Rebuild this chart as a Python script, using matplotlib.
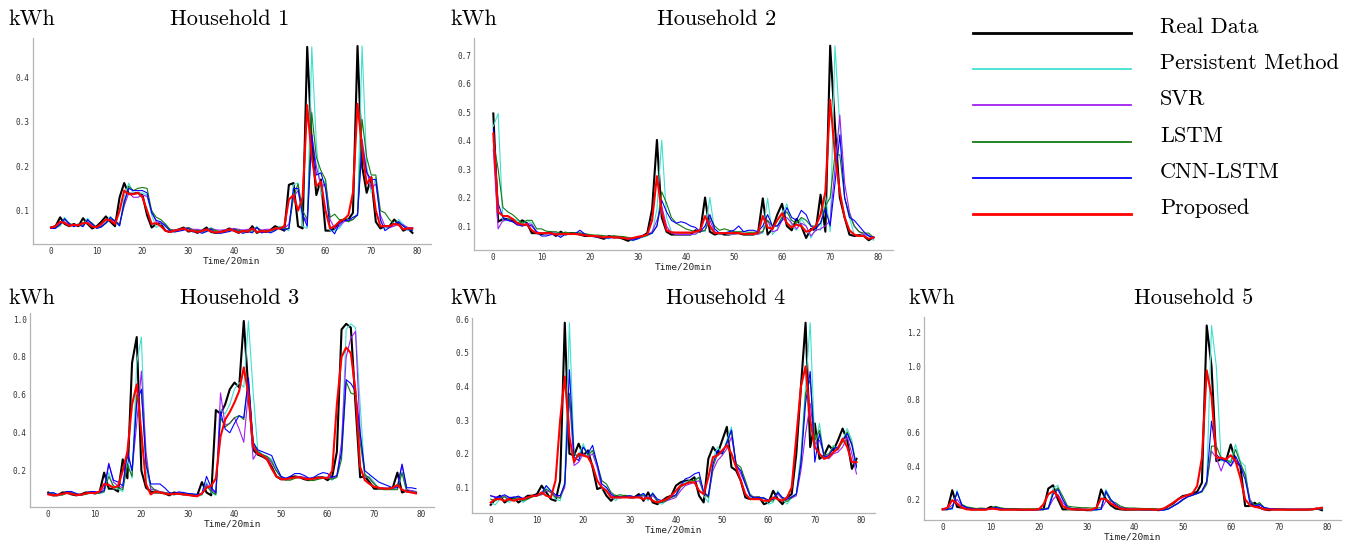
import numpy as np
import matplotlib
matplotlib.use("Agg")
import matplotlib.pyplot as plt
from matplotlib.lines import Line2D
from matplotlib.legend_handler import HandlerLine2D

# ---------------- data ----------------
steps = list(range(80))
xticks = [0, 10, 20, 30, 40, 50, 60, 70, 80]

series_names = ["Real Data", "Persistent Method", "SVR", "LSTM", "CNN-LSTM", "Proposed"]
series_colors = ["#000000", "#40e0d0", "#a020f0", "#137a13", "#0000ff", "#ff0000"]

titles = ["Household 1", "Household 2", "Household 3", "Household 4", "Household 5"]
yticks_list = [
    [0.1, 0.2, 0.3, 0.4],
    [0.1, 0.2, 0.3, 0.4, 0.5, 0.6, 0.7],
    [0.2, 0.4, 0.6, 0.8, 1.0],
    [0.1, 0.2, 0.3, 0.4, 0.5, 0.6],
    [0.2, 0.4, 0.6, 0.8, 1.0, 1.2],
]

# Household 1
real1 = [0.062,0.065,0.085,0.070,0.065,0.070,0.065,0.083,0.070,0.060,
         0.065,0.075,0.087,0.075,0.065,0.130,0.162,0.138,0.138,0.140,
         0.135,0.090,0.062,0.070,0.070,0.055,0.052,0.055,0.058,0.062,
         0.053,0.055,0.050,0.055,0.062,0.052,0.050,0.052,0.055,0.060,
         0.055,0.050,0.055,0.052,0.065,0.050,0.055,0.052,0.057,0.065,
         0.060,0.055,0.158,0.162,0.065,0.060,0.468,0.250,0.135,0.170,
         0.055,0.055,0.060,0.075,0.080,0.080,0.095,0.470,0.200,0.140,
         0.175,0.075,0.060,0.065,0.065,0.080,0.070,0.055,0.060,0.050]
pers1 = [0.060,0.062,0.065,0.085,0.070,0.065,0.070,0.065,0.083,0.070,
         0.060,0.065,0.075,0.087,0.075,0.065,0.130,0.162,0.138,0.138,
         0.140,0.135,0.090,0.062,0.070,0.070,0.055,0.052,0.055,0.058,
         0.062,0.053,0.055,0.050,0.055,0.062,0.052,0.050,0.052,0.055,
         0.060,0.055,0.050,0.055,0.052,0.065,0.050,0.055,0.052,0.057,
         0.065,0.060,0.055,0.158,0.162,0.065,0.060,0.468,0.250,0.135,
         0.170,0.055,0.055,0.060,0.075,0.080,0.080,0.095,0.470,0.200,
         0.140,0.175,0.075,0.060,0.065,0.065,0.080,0.070,0.055,0.060]
svr1 = [0.062,0.062,0.070,0.075,0.068,0.068,0.068,0.070,0.075,0.068,
        0.062,0.066,0.072,0.080,0.076,0.070,0.110,0.140,0.130,0.130,
        0.135,0.132,0.100,0.075,0.072,0.068,0.058,0.056,0.057,0.060,
        0.062,0.058,0.058,0.056,0.058,0.060,0.057,0.056,0.057,0.058,
        0.060,0.058,0.056,0.058,0.058,0.062,0.056,0.058,0.058,0.060,
        0.062,0.060,0.070,0.130,0.145,0.090,0.075,0.270,0.200,0.155,
        0.160,0.080,0.060,0.065,0.075,0.078,0.080,0.090,0.260,0.190,
        0.150,0.160,0.090,0.065,0.062,0.065,0.070,0.068,0.062,0.062]
lstm1 = [0.060,0.062,0.068,0.080,0.072,0.066,0.070,0.066,0.078,0.072,
         0.062,0.064,0.072,0.082,0.078,0.068,0.115,0.155,0.145,0.150,
         0.152,0.150,0.100,0.085,0.080,0.070,0.058,0.055,0.056,0.058,
         0.062,0.056,0.056,0.053,0.055,0.060,0.055,0.053,0.054,0.056,
         0.058,0.056,0.053,0.055,0.054,0.062,0.054,0.055,0.054,0.057,
         0.062,0.060,0.060,0.130,0.160,0.100,0.080,0.320,0.220,0.190,
         0.170,0.085,0.092,0.080,0.080,0.075,0.080,0.090,0.305,0.220,
         0.180,0.180,0.100,0.095,0.080,0.070,0.075,0.065,0.060,0.058]
cnn1 = [0.060,0.060,0.070,0.082,0.070,0.064,0.068,0.064,0.080,0.070,
        0.060,0.063,0.072,0.085,0.076,0.066,0.120,0.150,0.145,0.145,
        0.145,0.140,0.095,0.078,0.075,0.065,0.055,0.052,0.054,0.056,
        0.060,0.052,0.054,0.049,0.053,0.058,0.050,0.049,0.051,0.053,
        0.057,0.053,0.049,0.053,0.050,0.062,0.050,0.053,0.050,0.055,
        0.062,0.056,0.060,0.150,0.150,0.090,0.065,0.270,0.180,0.185,
        0.150,0.060,0.048,0.070,0.078,0.078,0.085,0.090,0.245,0.185,
        0.170,0.170,0.080,0.055,0.062,0.070,0.075,0.065,0.058,0.055]
prop1 = [0.062,0.065,0.075,0.072,0.066,0.068,0.067,0.072,0.072,0.064,
         0.063,0.070,0.080,0.078,0.070,0.100,0.145,0.137,0.137,0.140,
         0.130,0.100,0.070,0.072,0.065,0.055,0.052,0.055,0.057,0.060,
         0.055,0.055,0.052,0.054,0.058,0.053,0.051,0.052,0.054,0.058,
         0.055,0.051,0.054,0.053,0.060,0.052,0.054,0.053,0.056,0.060,
         0.060,0.065,0.125,0.135,0.100,0.130,0.337,0.220,0.155,0.165,
         0.100,0.060,0.065,0.075,0.080,0.090,0.140,0.340,0.240,0.160,
         0.175,0.100,0.065,0.065,0.065,0.070,0.068,0.058,0.060,0.060]

# Household 2
real2 = [0.495,0.115,0.125,0.125,0.120,0.105,0.120,0.110,0.075,0.075,
         0.072,0.075,0.078,0.065,0.080,0.070,0.075,0.075,0.070,0.065,
         0.065,0.065,0.060,0.055,0.065,0.060,0.060,0.055,0.048,0.055,
         0.060,0.065,0.075,0.160,0.402,0.130,0.080,0.070,0.070,0.070,
         0.070,0.070,0.085,0.080,0.200,0.080,0.070,0.075,0.070,0.070,
         0.075,0.075,0.070,0.070,0.070,0.075,0.197,0.070,0.090,0.140,
         0.178,0.100,0.085,0.125,0.100,0.058,0.090,0.085,0.210,0.080,
         0.733,0.450,0.200,0.130,0.070,0.065,0.068,0.065,0.050,0.060]
pers2 = [0.450,0.495,0.115,0.125,0.125,0.120,0.105,0.120,0.110,0.075,
         0.075,0.072,0.075,0.078,0.065,0.080,0.070,0.075,0.075,0.070,
         0.065,0.065,0.065,0.060,0.055,0.065,0.060,0.060,0.055,0.048,
         0.055,0.060,0.065,0.075,0.160,0.402,0.130,0.080,0.070,0.070,
         0.070,0.070,0.070,0.085,0.080,0.200,0.080,0.070,0.075,0.070,
         0.070,0.075,0.075,0.070,0.070,0.070,0.075,0.197,0.070,0.090,
         0.140,0.178,0.100,0.085,0.125,0.100,0.058,0.090,0.085,0.210,
         0.080,0.733,0.450,0.200,0.130,0.070,0.065,0.068,0.065,0.050]
svr2 = [0.370,0.090,0.120,0.120,0.115,0.105,0.100,0.110,0.105,0.080,
        0.075,0.072,0.074,0.075,0.068,0.075,0.072,0.073,0.074,0.070,
        0.066,0.065,0.064,0.060,0.060,0.062,0.060,0.059,0.055,0.052,
        0.056,0.062,0.068,0.080,0.120,0.170,0.100,0.075,0.070,0.070,
        0.070,0.070,0.072,0.082,0.085,0.120,0.080,0.072,0.074,0.072,
        0.072,0.074,0.074,0.072,0.072,0.072,0.080,0.120,0.080,0.085,
        0.120,0.130,0.110,0.090,0.110,0.100,0.065,0.085,0.090,0.100,
        0.120,0.300,0.490,0.250,0.150,0.100,0.080,0.070,0.068,0.055]
lstm2 = [0.400,0.300,0.165,0.150,0.140,0.125,0.110,0.120,0.120,0.090,
         0.090,0.082,0.080,0.080,0.075,0.078,0.075,0.076,0.076,0.073,
         0.070,0.068,0.068,0.066,0.064,0.066,0.064,0.063,0.060,0.056,
         0.058,0.062,0.068,0.075,0.100,0.220,0.180,0.130,0.110,0.100,
         0.090,0.085,0.080,0.080,0.085,0.130,0.100,0.085,0.090,0.085,
         0.080,0.080,0.080,0.078,0.078,0.078,0.080,0.120,0.100,0.100,
         0.130,0.150,0.120,0.110,0.130,0.120,0.100,0.100,0.110,0.170,
         0.200,0.350,0.350,0.200,0.140,0.100,0.080,0.075,0.075,0.060]
cnn2 = [0.440,0.180,0.130,0.120,0.115,0.105,0.100,0.105,0.100,0.080,
        0.065,0.065,0.070,0.070,0.060,0.072,0.072,0.073,0.085,0.072,
        0.065,0.062,0.062,0.058,0.058,0.060,0.060,0.058,0.055,0.050,
        0.055,0.065,0.070,0.075,0.100,0.190,0.150,0.120,0.110,0.115,
        0.110,0.100,0.095,0.080,0.100,0.140,0.090,0.075,0.075,0.080,
        0.085,0.100,0.080,0.085,0.085,0.080,0.100,0.140,0.100,0.100,
        0.120,0.165,0.130,0.120,0.155,0.140,0.100,0.090,0.110,0.160,
        0.100,0.250,0.420,0.200,0.130,0.120,0.100,0.080,0.065,0.060]
prop2 = [0.425,0.150,0.135,0.135,0.125,0.110,0.105,0.105,0.085,0.075,
         0.075,0.075,0.075,0.070,0.072,0.072,0.072,0.072,0.070,0.068,
         0.065,0.065,0.063,0.060,0.062,0.060,0.060,0.058,0.055,0.058,
         0.062,0.065,0.070,0.120,0.275,0.150,0.085,0.078,0.077,0.077,
         0.077,0.077,0.080,0.085,0.135,0.100,0.075,0.075,0.075,0.075,
         0.075,0.075,0.072,0.072,0.072,0.075,0.135,0.095,0.090,0.120,
         0.145,0.110,0.095,0.105,0.100,0.080,0.085,0.100,0.140,0.220,
         0.543,0.350,0.220,0.130,0.085,0.070,0.065,0.065,0.055,0.060]

# Household 3
real3 = [0.085,0.070,0.070,0.085,0.085,0.075,0.070,0.075,0.085,0.085,
         0.080,0.085,0.190,0.105,0.105,0.090,0.260,0.160,0.770,0.905,
         0.200,0.110,0.090,0.085,0.085,0.080,0.070,0.085,0.080,0.075,
         0.075,0.070,0.070,0.140,0.085,0.070,0.520,0.500,0.550,0.630,
         0.665,0.640,0.990,0.620,0.310,0.285,0.275,0.260,0.220,0.170,
         0.155,0.155,0.165,0.170,0.165,0.155,0.150,0.160,0.165,0.165,
         0.150,0.170,0.300,0.945,0.975,0.955,0.550,0.165,0.170,0.140,
         0.105,0.105,0.105,0.105,0.110,0.190,0.085,0.095,0.090,0.085]
pers3 = [0.080,0.085,0.070,0.070,0.085,0.085,0.075,0.070,0.075,0.085,
         0.085,0.080,0.085,0.190,0.105,0.105,0.090,0.260,0.160,0.770,
         0.905,0.200,0.110,0.090,0.085,0.085,0.080,0.070,0.085,0.080,
         0.075,0.075,0.070,0.070,0.140,0.085,0.070,0.520,0.500,0.550,
         0.630,0.665,0.640,0.990,0.620,0.310,0.285,0.275,0.260,0.220,
         0.170,0.155,0.155,0.165,0.170,0.165,0.155,0.150,0.160,0.165,
         0.165,0.150,0.170,0.300,0.945,0.975,0.955,0.550,0.165,0.170,
         0.140,0.105,0.105,0.105,0.105,0.110,0.190,0.085,0.095,0.090]
svr3 = [0.075,0.075,0.072,0.075,0.085,0.082,0.075,0.072,0.078,0.085,
        0.085,0.082,0.110,0.240,0.140,0.120,0.110,0.300,0.200,0.450,
        0.725,0.300,0.100,0.100,0.090,0.085,0.080,0.075,0.082,0.080,
        0.076,0.075,0.072,0.075,0.130,0.100,0.080,0.610,0.440,0.450,
        0.480,0.420,0.350,0.620,0.260,0.300,0.280,0.270,0.240,0.200,
        0.165,0.160,0.160,0.165,0.170,0.165,0.160,0.155,0.160,0.165,
        0.165,0.160,0.170,0.350,0.800,0.900,0.935,0.400,0.175,0.160,
        0.130,0.110,0.110,0.105,0.105,0.120,0.230,0.100,0.095,0.090]
lstm3 = [0.080,0.078,0.072,0.072,0.082,0.083,0.077,0.072,0.075,0.082,
         0.084,0.082,0.090,0.170,0.120,0.110,0.100,0.230,0.170,0.600,
         0.620,0.250,0.120,0.095,0.088,0.085,0.080,0.074,0.082,0.080,
         0.076,0.075,0.072,0.075,0.120,0.090,0.075,0.480,0.430,0.450,
         0.480,0.490,0.470,0.680,0.350,0.300,0.285,0.275,0.250,0.200,
         0.165,0.150,0.150,0.160,0.165,0.160,0.150,0.148,0.155,0.160,
         0.160,0.155,0.165,0.260,0.670,0.610,0.600,0.350,0.180,0.160,
         0.130,0.110,0.100,0.100,0.100,0.100,0.190,0.090,0.088,0.085]
cnn3 = [0.080,0.085,0.075,0.078,0.090,0.090,0.080,0.072,0.078,0.090,
        0.090,0.085,0.095,0.235,0.150,0.140,0.120,0.300,0.200,0.560,
        0.630,0.230,0.130,0.130,0.130,0.110,0.085,0.080,0.088,0.085,
        0.080,0.078,0.075,0.080,0.170,0.110,0.085,0.510,0.420,0.400,
        0.450,0.490,0.480,0.690,0.350,0.310,0.300,0.290,0.280,0.220,
        0.170,0.160,0.170,0.185,0.185,0.175,0.160,0.165,0.180,0.190,
        0.185,0.165,0.175,0.300,0.680,0.660,0.620,0.400,0.200,0.180,
        0.160,0.140,0.130,0.120,0.110,0.110,0.235,0.110,0.110,0.105]
prop3 = [0.075,0.070,0.072,0.078,0.082,0.078,0.072,0.073,0.080,0.083,
         0.082,0.090,0.130,0.125,0.110,0.120,0.200,0.300,0.550,0.655,
         0.400,0.130,0.075,0.090,0.085,0.080,0.075,0.078,0.078,0.075,
         0.072,0.068,0.065,0.080,0.110,0.120,0.160,0.380,0.470,0.510,
         0.560,0.620,0.745,0.600,0.330,0.290,0.280,0.260,0.210,0.170,
         0.155,0.155,0.160,0.165,0.165,0.158,0.155,0.158,0.162,0.163,
         0.160,0.200,0.550,0.800,0.850,0.820,0.620,0.220,0.150,0.130,
         0.115,0.110,0.105,0.105,0.110,0.125,0.100,0.090,0.085,0.080]

# Household 4
real4 = [0.048,0.065,0.075,0.055,0.065,0.070,0.055,0.065,0.075,0.075,
         0.080,0.105,0.085,0.065,0.060,0.120,0.590,0.200,0.195,0.230,
         0.195,0.210,0.160,0.095,0.100,0.075,0.060,0.075,0.070,0.075,
         0.070,0.070,0.080,0.060,0.085,0.055,0.050,0.060,0.070,0.075,
         0.105,0.115,0.120,0.120,0.130,0.075,0.055,0.185,0.220,0.200,
         0.240,0.280,0.160,0.150,0.120,0.070,0.065,0.070,0.070,0.050,
         0.055,0.090,0.065,0.050,0.070,0.080,0.200,0.400,0.590,0.220,
         0.290,0.185,0.195,0.225,0.210,0.240,0.275,0.240,0.155,0.185]
pers4 = [0.055,0.048,0.065,0.075,0.055,0.065,0.070,0.055,0.065,0.075,
         0.075,0.080,0.105,0.085,0.065,0.060,0.120,0.590,0.200,0.195,
         0.230,0.195,0.210,0.160,0.095,0.100,0.075,0.060,0.075,0.070,
         0.075,0.070,0.070,0.080,0.060,0.085,0.055,0.050,0.060,0.070,
         0.075,0.105,0.115,0.120,0.120,0.130,0.075,0.055,0.185,0.220,
         0.200,0.240,0.280,0.160,0.150,0.120,0.070,0.065,0.070,0.070,
         0.050,0.055,0.090,0.065,0.050,0.070,0.080,0.200,0.400,0.590,
         0.220,0.290,0.185,0.195,0.225,0.210,0.240,0.275,0.240,0.155]
svr4 = [0.075,0.072,0.070,0.072,0.070,0.070,0.072,0.068,0.068,0.072,
        0.075,0.078,0.090,0.085,0.075,0.070,0.100,0.370,0.165,0.175,
        0.200,0.190,0.200,0.160,0.100,0.090,0.075,0.068,0.070,0.070,
        0.072,0.070,0.070,0.075,0.065,0.075,0.060,0.055,0.060,0.065,
        0.070,0.090,0.105,0.110,0.115,0.120,0.085,0.070,0.150,0.180,
        0.195,0.215,0.250,0.170,0.140,0.110,0.075,0.070,0.068,0.068,
        0.060,0.065,0.080,0.065,0.065,0.068,0.075,0.150,0.260,0.350,
        0.230,0.240,0.200,0.185,0.200,0.205,0.220,0.250,0.200,0.140]
lstm4 = [0.065,0.060,0.068,0.072,0.062,0.066,0.070,0.060,0.065,0.072,
         0.075,0.080,0.095,0.085,0.070,0.068,0.110,0.380,0.200,0.190,
         0.220,0.195,0.210,0.170,0.120,0.110,0.085,0.075,0.078,0.075,
         0.075,0.072,0.072,0.078,0.065,0.080,0.060,0.055,0.062,0.070,
         0.075,0.100,0.110,0.120,0.120,0.130,0.085,0.070,0.160,0.200,
         0.200,0.230,0.270,0.170,0.160,0.120,0.080,0.068,0.068,0.068,
         0.058,0.060,0.085,0.068,0.058,0.070,0.080,0.180,0.380,0.420,
         0.240,0.270,0.195,0.200,0.220,0.215,0.235,0.265,0.230,0.165]
cnn4 = [0.075,0.070,0.072,0.078,0.070,0.070,0.074,0.065,0.068,0.075,
        0.078,0.082,0.105,0.090,0.078,0.075,0.110,0.450,0.190,0.180,
        0.220,0.200,0.225,0.170,0.110,0.100,0.080,0.070,0.072,0.072,
        0.075,0.072,0.075,0.082,0.068,0.082,0.065,0.060,0.065,0.072,
        0.078,0.105,0.125,0.130,0.140,0.145,0.085,0.075,0.170,0.210,
        0.200,0.235,0.270,0.165,0.150,0.110,0.075,0.068,0.070,0.068,
        0.062,0.065,0.085,0.070,0.065,0.072,0.080,0.170,0.350,0.445,
        0.175,0.260,0.190,0.195,0.215,0.220,0.240,0.260,0.225,0.160]
prop4 = [0.055,0.065,0.065,0.060,0.065,0.060,0.065,0.065,0.070,0.075,
         0.075,0.085,0.075,0.070,0.120,0.300,0.430,0.250,0.175,0.200,
         0.195,0.190,0.165,0.120,0.100,0.090,0.070,0.070,0.070,0.070,
         0.070,0.070,0.070,0.065,0.070,0.060,0.055,0.060,0.065,0.075,
         0.090,0.105,0.110,0.115,0.115,0.090,0.080,0.130,0.190,0.195,
         0.210,0.225,0.200,0.160,0.120,0.080,0.065,0.065,0.065,0.060,
         0.060,0.070,0.065,0.060,0.070,0.100,0.250,0.400,0.460,0.300,
         0.220,0.200,0.185,0.190,0.205,0.215,0.245,0.220,0.175,0.175]

# Household 5
real5 = [0.140,0.140,0.255,0.155,0.150,0.145,0.140,0.140,0.140,0.140,
         0.155,0.145,0.140,0.140,0.140,0.140,0.138,0.138,0.138,0.138,
         0.140,0.140,0.265,0.285,0.200,0.140,0.140,0.140,0.138,0.138,
         0.135,0.135,0.140,0.260,0.200,0.165,0.145,0.140,0.138,0.138,
         0.138,0.138,0.138,0.138,0.138,0.135,0.140,0.160,0.175,0.200,
         0.220,0.225,0.235,0.245,0.300,1.245,1.000,0.430,0.440,0.430,
         0.530,0.430,0.400,0.160,0.160,0.180,0.150,0.140,0.135,0.140,
         0.140,0.140,0.138,0.138,0.138,0.138,0.138,0.140,0.145,0.135]
pers5 = [0.140,0.140,0.140,0.255,0.155,0.150,0.145,0.140,0.140,0.140,
         0.140,0.155,0.145,0.140,0.140,0.140,0.140,0.138,0.138,0.138,
         0.138,0.140,0.140,0.265,0.285,0.200,0.140,0.140,0.140,0.138,
         0.138,0.135,0.135,0.140,0.260,0.200,0.165,0.145,0.140,0.138,
         0.138,0.138,0.138,0.138,0.138,0.138,0.135,0.140,0.160,0.175,
         0.200,0.220,0.225,0.235,0.245,0.300,1.245,1.000,0.430,0.440,
         0.430,0.530,0.430,0.400,0.160,0.160,0.180,0.150,0.140,0.135,
         0.140,0.140,0.140,0.138,0.138,0.138,0.138,0.138,0.140,0.145]
svr5 = [0.145,0.145,0.165,0.200,0.160,0.150,0.145,0.140,0.140,0.140,
        0.140,0.150,0.145,0.140,0.140,0.140,0.140,0.140,0.138,0.138,
        0.138,0.140,0.145,0.200,0.230,0.180,0.150,0.145,0.142,0.140,
        0.140,0.138,0.138,0.140,0.190,0.190,0.165,0.150,0.145,0.140,
        0.140,0.140,0.140,0.140,0.140,0.138,0.138,0.145,0.160,0.180,
        0.200,0.215,0.225,0.235,0.250,0.300,0.490,0.450,0.370,0.450,
        0.400,0.440,0.400,0.350,0.200,0.160,0.165,0.150,0.140,0.140,
        0.140,0.140,0.140,0.140,0.140,0.140,0.140,0.140,0.140,0.145]
lstm5 = [0.140,0.140,0.150,0.240,0.170,0.155,0.150,0.145,0.148,0.145,
         0.145,0.158,0.150,0.145,0.145,0.145,0.142,0.142,0.142,0.142,
         0.142,0.142,0.150,0.240,0.270,0.220,0.160,0.155,0.152,0.150,
         0.150,0.148,0.148,0.150,0.240,0.190,0.180,0.160,0.150,0.148,
         0.148,0.146,0.145,0.145,0.145,0.142,0.140,0.145,0.160,0.175,
         0.195,0.215,0.225,0.235,0.245,0.290,0.520,0.520,0.450,0.440,
         0.420,0.500,0.420,0.350,0.190,0.165,0.180,0.150,0.145,0.140,
         0.140,0.140,0.140,0.140,0.140,0.140,0.140,0.140,0.140,0.140]
cnn5 = [0.140,0.140,0.145,0.245,0.165,0.150,0.145,0.140,0.142,0.142,
        0.142,0.152,0.145,0.142,0.140,0.140,0.140,0.138,0.138,0.138,
        0.138,0.140,0.145,0.230,0.260,0.200,0.150,0.145,0.142,0.140,
        0.140,0.138,0.138,0.140,0.250,0.200,0.170,0.150,0.145,0.140,
        0.140,0.140,0.138,0.138,0.138,0.136,0.135,0.142,0.158,0.175,
        0.198,0.215,0.225,0.235,0.250,0.310,0.670,0.470,0.440,0.430,
        0.400,0.460,0.400,0.320,0.180,0.160,0.170,0.150,0.145,0.142,
        0.140,0.140,0.140,0.140,0.140,0.140,0.140,0.140,0.142,0.145]
prop5 = [0.140,0.150,0.195,0.175,0.150,0.140,0.138,0.138,0.138,0.138,
         0.145,0.142,0.138,0.138,0.138,0.138,0.138,0.138,0.138,0.138,
         0.140,0.170,0.230,0.250,0.220,0.160,0.145,0.140,0.140,0.138,
         0.138,0.138,0.150,0.205,0.200,0.175,0.160,0.145,0.140,0.140,
         0.140,0.140,0.140,0.140,0.138,0.138,0.145,0.160,0.180,0.200,
         0.215,0.225,0.235,0.280,0.450,0.975,0.820,0.450,0.450,0.440,
         0.465,0.430,0.330,0.200,0.165,0.155,0.150,0.140,0.138,0.138,
         0.138,0.138,0.138,0.138,0.138,0.138,0.138,0.140,0.145,0.150]

households = [
    [real1, pers1, svr1, lstm1, cnn1, prop1],
    [real2, pers2, svr2, lstm2, cnn2, prop2],
    [real3, pers3, svr3, lstm3, cnn3, prop3],
    [real4, pers4, svr4, lstm4, cnn4, prop4],
    [real5, pers5, svr5, lstm5, cnn5, prop5],
]

# ---------------- layout (pixels) ----------------
W, H = 1356, 543
fig = plt.figure(figsize=(W / 100, H / 100), dpi=100)

# left, right, top, bottom of axes; ylim; title centre x; kWh x; text baseline y
panels = [
    dict(box=(32.9, 430.5, 38, 244), ylim=(0.025, 0.488), tx=230, kx=8, by=25),
    dict(box=(474.3, 892.5, 38, 250), ylim=(0.0158, 0.76), tx=717, kx=450, by=25),
    dict(box=(29.9, 434.4, 313, 507), ylim=(0.0085, 1.032), tx=240, kx=8, by=304),
    dict(box=(472.4, 874.8, 318, 513), ylim=(0.0237, 0.604), tx=726, kx=450, by=304),
    dict(box=(923.7, 1340.9, 317, 520), ylim=(0.076, 1.296), tx=1194, kx=908, by=304),
]

line_widths = [1.5, 0.8, 0.8, 0.8, 0.8, 1.5]
spine_color = "#b4b4b4"
tick_font = "DejaVu Sans Mono"
serif_font = "cmr10"

for i, p in enumerate(panels):
    l, r, t, b = p["box"]
    ax = fig.add_axes([l / W, 1 - b / H, (r - l) / W, (b - t) / H])
    for series, name, color, lw in zip(households[i], series_names, series_colors, line_widths):
        ax.plot(steps, series, color=color, lw=lw, label=name)
    ax.set_xlim(-3.95, 82.95)
    ax.set_ylim(*p["ylim"])
    ax.set_xticks(xticks)
    ax.set_yticks(yticks_list[i])
    ax.set_yticklabels([f"{v:.1f}" for v in yticks_list[i]])
    ax.tick_params(length=0, labelsize=5.6, labelcolor="#333333", pad=2.2)
    for lab in ax.get_xticklabels() + ax.get_yticklabels():
        lab.set_fontfamily(tick_font)
    ax.set_xlabel("Time/20min", fontsize=6.8, family=tick_font, color="#222222", labelpad=0.3)
    for s in ["top", "right"]:
        ax.spines[s].set_visible(False)
    for s in ["left", "bottom"]:
        ax.spines[s].set_color(spine_color)
        ax.spines[s].set_linewidth(0.9)
    ax.set_facecolor("white")
    fig.text(p["tx"] / W, 1 - p["by"] / H, titles[i], ha="center", va="baseline",
             fontsize=16, family=serif_font)
    fig.text(p["kx"] / W, 1 - p["by"] / H, "kWh", ha="left", va="baseline",
             fontsize=16, family=serif_font)


class BaselineLineHandler(HandlerLine2D):
    def create_artists(self, legend, orig_handle, xdescent, ydescent, width,
                       height, fontsize, trans):
        arts = super().create_artists(legend, orig_handle, xdescent, ydescent,
                                      width, height, fontsize, trans)
        for a in arts:
            a.set_ydata(np.zeros_like(np.asarray(a.get_xdata(), dtype=float)))
        return arts


legend_widths = [2.0, 1.3, 1.3, 1.3, 1.3, 2.0]
handles = [Line2D([], [], color=c, lw=w) for c, w in zip(series_colors, legend_widths)]
fs = 16
fs_px = fs * 100 / 72
leg = fig.legend(handles, series_names, loc="upper left",
                 bbox_to_anchor=((980 - 0.3 * fs_px) / W, 1 - 17 / H),
                 frameon=False, prop={"family": serif_font, "size": fs},
                 handlelength=7.09, handletextpad=1.32, labelspacing=0.755,
                 borderpad=0, borderaxespad=0,
                 handler_map={Line2D: BaselineLineHandler()})

fig.savefig("out.png", dpi=100, facecolor="white")
